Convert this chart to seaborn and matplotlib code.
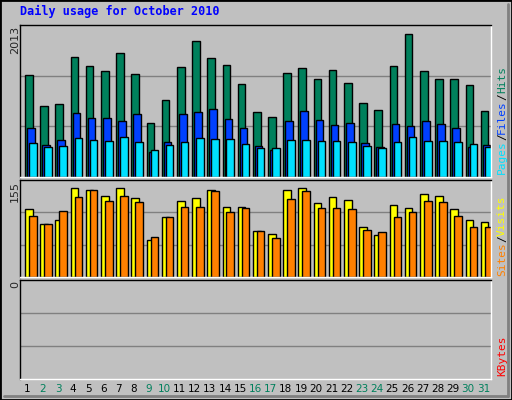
import numpy as np
import matplotlib
matplotlib.use("Agg")
import matplotlib.pyplot as plt
import seaborn as sns

days = list(range(1, 32))
weekend = [2, 3, 9, 10, 16, 17, 23, 24, 30, 31]
hits = [1396, 969, 996, 1636, 1516, 1449, 1689, 1409, 742, 1049, 1502, 1849, 1622, 1529, 1262, 880, 813, 1422, 1489, 1342, 1462, 1289, 1009, 916, 1516, 1956, 1449, 1342, 1342, 1249, 902]
files = [675, 436, 502, 876, 809, 809, 769, 862, 342, 476, 862, 889, 929, 795, 662, 422, 369, 769, 902, 782, 715, 742, 462, 409, 729, 689, 769, 729, 662, 409, 436]
pages = [462, 409, 422, 529, 502, 489, 542, 475, 369, 436, 475, 529, 515, 515, 449, 395, 395, 502, 502, 489, 489, 475, 422, 395, 475, 542, 489, 489, 475, 449, 409]
visits = [112, 88, 93, 147, 144, 134, 147, 130, 61, 98, 125, 130, 144, 115, 115, 75, 70, 144, 147, 122, 132, 127, 83, 69, 119, 114, 136, 134, 112, 93, 91]
sites = [101, 88, 109, 131, 144, 125, 134, 123, 66, 99, 115, 115, 141, 107, 113, 75, 64, 128, 141, 113, 113, 112, 78, 74, 99, 107, 125, 123, 101, 83, 83]
hits_max, sites_max = 2013, 155

sns.set_style("white")
plt.rcParams['font.family'] = ['DejaVu Sans']
GRAY = "#C0C0C0"
fig = plt.figure(figsize=(5.12, 4.0), dpi=100, facecolor=GRAY)
W, H = 512, 400
def axes(y0, y1):
    return fig.add_axes([20/W, 1-y1/H, 471/W, (y1-y0)/H], facecolor=GRAY)

d = np.array(days)
def style(ax, ymax):
    ax.set_xlim(0.5, 31.5)
    ax.set_ylim(0, ymax)
    ax.set_xticks([]); ax.set_yticks([])
    for f in (1/3, 2/3):
        ax.axhline(ymax*f, color="#808080", lw=1, zorder=0)
    for s in ax.spines.values():
        s.set_color("black"); s.set_linewidth(1)
    ax.spines['right'].set_color("white"); ax.spines['bottom'].set_color("white")

ax1 = axes(25, 177)
kw = dict(width=0.5, align='edge', edgecolor='black', linewidth=1)
ax1.bar(d-0.17, hits, color="#00805C", **kw)
ax1.bar(d-0.04, files, color="#0040FF", **kw)
ax1.bar(d+0.09, pages, color="#00E0FF", **kw)
style(ax1, hits_max*1.03)

ax2 = axes(180, 277)
ax2.bar(d-0.17, visits, color="#FFFF00", **kw)
ax2.bar(d+0.09, sites, color="#FF8000", **kw)
style(ax2, sites_max*1.03)

ax3 = axes(280, 379)
style(ax3, 1)

mono = dict(family='DejaVu Sans Mono')
fig.text(20/W, 1-15/H, "Daily usage for October 2010", color="#0000FF", fontsize=8.5,
         va='baseline', fontweight='bold', **mono)
for txt, y in (("2013", 40), ("155", 192), ("0", 284)):
    fig.text(15/W, 1-y/H, txt, rotation=90, ha='center', va='center', fontsize=8)

renderer = fig.canvas.get_renderer()
def side(parts, ybottom):
    y = ybottom
    for t, c in parts:
        tx = fig.text(502/W, 1-y/H, t, rotation=90, ha='center', va='bottom',
                      color=c, fontsize=8, **mono)
        bb = tx.get_window_extent(renderer)
        y -= bb.height
side([("Pages", "#00E0FF"), ("/", "#000000"), ("Files", "#0040FF"), ("/", "#000000"), ("Hits", "#00805C")], 174)
side([("Sites", "#FF8000"), ("/", "#000000"), ("Visits", "#FFFF00")], 276)
side([("KBytes", "#FF0000")], 376)

for day in days:
    x = 20 + (day - 0.5) * 471/31
    fig.text(x/W, 1-389/H, str(day), ha='center', va='center', fontsize=7.5,
             color="#00805C" if day in weekend else "black")

fig.add_artist(plt.Rectangle((0, 0), 1, 1, transform=fig.transFigure, fill=False, edgecolor="black", lw=2))
fig.add_artist(plt.Line2D([4/W, 508/W], [4/H, 4/H], color="#808080", lw=2))
fig.add_artist(plt.Line2D([508/W, 508/W], [4/H, 396/H], color="#808080", lw=2))
fig.savefig("out.png", dpi=100, facecolor=GRAY)
